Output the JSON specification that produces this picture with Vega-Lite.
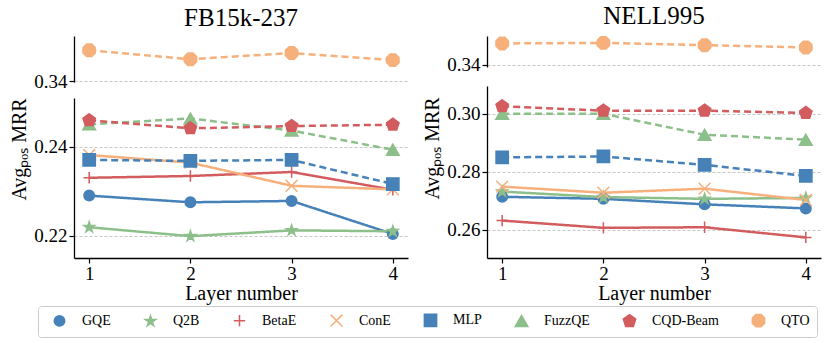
{
  "$schema": "https://vega.github.io/schema/vega-lite/v6.json",
  "padding": {"left": 9, "right": 5, "top": 3, "bottom": 3},
  "data": {"values": [
    {"d": "FB15k-237", "m": "GQE", "layer": 1, "mrr": 0.2290},
    {"d": "FB15k-237", "m": "GQE", "layer": 2, "mrr": 0.2275},
    {"d": "FB15k-237", "m": "GQE", "layer": 3, "mrr": 0.2278},
    {"d": "FB15k-237", "m": "GQE", "layer": 4, "mrr": 0.2204},
    {"d": "FB15k-237", "m": "Q2B", "layer": 1, "mrr": 0.2219},
    {"d": "FB15k-237", "m": "Q2B", "layer": 2, "mrr": 0.2199},
    {"d": "FB15k-237", "m": "Q2B", "layer": 3, "mrr": 0.2212},
    {"d": "FB15k-237", "m": "Q2B", "layer": 4, "mrr": 0.2210},
    {"d": "FB15k-237", "m": "BetaE", "layer": 1, "mrr": 0.2330},
    {"d": "FB15k-237", "m": "BetaE", "layer": 2, "mrr": 0.2334},
    {"d": "FB15k-237", "m": "BetaE", "layer": 3, "mrr": 0.2343},
    {"d": "FB15k-237", "m": "BetaE", "layer": 4, "mrr": 0.2303},
    {"d": "FB15k-237", "m": "ConE", "layer": 1, "mrr": 0.2381},
    {"d": "FB15k-237", "m": "ConE", "layer": 2, "mrr": 0.2364},
    {"d": "FB15k-237", "m": "ConE", "layer": 3, "mrr": 0.2312},
    {"d": "FB15k-237", "m": "ConE", "layer": 4, "mrr": 0.2304},
    {"d": "FB15k-237", "m": "MLP", "layer": 1, "mrr": 0.2370},
    {"d": "FB15k-237", "m": "MLP", "layer": 2, "mrr": 0.2368},
    {"d": "FB15k-237", "m": "MLP", "layer": 3, "mrr": 0.2370},
    {"d": "FB15k-237", "m": "MLP", "layer": 4, "mrr": 0.2316},
    {"d": "FB15k-237", "m": "FuzzQE", "layer": 1, "mrr": 0.2450},
    {"d": "FB15k-237", "m": "FuzzQE", "layer": 2, "mrr": 0.2463},
    {"d": "FB15k-237", "m": "FuzzQE", "layer": 3, "mrr": 0.2436},
    {"d": "FB15k-237", "m": "FuzzQE", "layer": 4, "mrr": 0.2393},
    {"d": "FB15k-237", "m": "CQD-Beam", "layer": 1, "mrr": 0.2459},
    {"d": "FB15k-237", "m": "CQD-Beam", "layer": 2, "mrr": 0.2441},
    {"d": "FB15k-237", "m": "CQD-Beam", "layer": 3, "mrr": 0.2446},
    {"d": "FB15k-237", "m": "CQD-Beam", "layer": 4, "mrr": 0.2449},
    {"d": "FB15k-237", "m": "QTO", "layer": 1, "mrr": 0.3469},
    {"d": "FB15k-237", "m": "QTO", "layer": 2, "mrr": 0.3449},
    {"d": "FB15k-237", "m": "QTO", "layer": 3, "mrr": 0.3463},
    {"d": "FB15k-237", "m": "QTO", "layer": 4, "mrr": 0.3447},
    {"d": "NELL995", "m": "GQE", "layer": 1, "mrr": 0.2713},
    {"d": "NELL995", "m": "GQE", "layer": 2, "mrr": 0.2706},
    {"d": "NELL995", "m": "GQE", "layer": 3, "mrr": 0.2687},
    {"d": "NELL995", "m": "GQE", "layer": 4, "mrr": 0.2673},
    {"d": "NELL995", "m": "Q2B", "layer": 1, "mrr": 0.2731},
    {"d": "NELL995", "m": "Q2B", "layer": 2, "mrr": 0.2712},
    {"d": "NELL995", "m": "Q2B", "layer": 3, "mrr": 0.2706},
    {"d": "NELL995", "m": "Q2B", "layer": 4, "mrr": 0.2709},
    {"d": "NELL995", "m": "BetaE", "layer": 1, "mrr": 0.2631},
    {"d": "NELL995", "m": "BetaE", "layer": 2, "mrr": 0.2606},
    {"d": "NELL995", "m": "BetaE", "layer": 3, "mrr": 0.2608},
    {"d": "NELL995", "m": "BetaE", "layer": 4, "mrr": 0.2573},
    {"d": "NELL995", "m": "ConE", "layer": 1, "mrr": 0.2748},
    {"d": "NELL995", "m": "ConE", "layer": 2, "mrr": 0.2727},
    {"d": "NELL995", "m": "ConE", "layer": 3, "mrr": 0.2741},
    {"d": "NELL995", "m": "ConE", "layer": 4, "mrr": 0.2702},
    {"d": "NELL995", "m": "MLP", "layer": 1, "mrr": 0.2849},
    {"d": "NELL995", "m": "MLP", "layer": 2, "mrr": 0.2852},
    {"d": "NELL995", "m": "MLP", "layer": 3, "mrr": 0.2823},
    {"d": "NELL995", "m": "MLP", "layer": 4, "mrr": 0.2785},
    {"d": "NELL995", "m": "FuzzQE", "layer": 1, "mrr": 0.2999},
    {"d": "NELL995", "m": "FuzzQE", "layer": 2, "mrr": 0.2999},
    {"d": "NELL995", "m": "FuzzQE", "layer": 3, "mrr": 0.2927},
    {"d": "NELL995", "m": "FuzzQE", "layer": 4, "mrr": 0.2910},
    {"d": "NELL995", "m": "CQD-Beam", "layer": 1, "mrr": 0.3025},
    {"d": "NELL995", "m": "CQD-Beam", "layer": 2, "mrr": 0.3010},
    {"d": "NELL995", "m": "CQD-Beam", "layer": 3, "mrr": 0.3010},
    {"d": "NELL995", "m": "CQD-Beam", "layer": 4, "mrr": 0.3002},
    {"d": "NELL995", "m": "QTO", "layer": 1, "mrr": 0.3475},
    {"d": "NELL995", "m": "QTO", "layer": 2, "mrr": 0.3477},
    {"d": "NELL995", "m": "QTO", "layer": 3, "mrr": 0.3469},
    {"d": "NELL995", "m": "QTO", "layer": 4, "mrr": 0.3461}
  ]},
  "config": {
    "font": "Liberation Serif",
    "view": {"stroke": null},
    "axis": {
      "labelFont": "Liberation Serif", "titleFont": "Liberation Serif",
      "labelFontSize": 19, "titleFontSize": 20, "titleFontWeight": "normal",
      "labelColor": "black", "titleColor": "black",
      "domainColor": "black", "domainWidth": 1.3,
      "tickColor": "black", "tickWidth": 1.2, "tickSize": 5,
      "gridColor": "#b8b8b8", "gridDash": [3, 2], "gridWidth": 0.8
    },
    "legend": {
      "orient": "none", "legendX": -36, "legendY": 270, "direction": "horizontal", "columns": 8,
      "columnPadding": 25, "labelOffset": 15, "symbolOffset": 7, "labelFont": "Liberation Serif", "labelFontSize": 14,
      "labelFontWeight": "normal",
      "labelColor": "black", "strokeColor": "#cccccc", "padding": 7, "cornerRadius": 3,
      "symbolStrokeWidth": 1.5, "symbolOpacity": 1
    },
    "title": {"font": "Liberation Serif", "fontSize": 25, "fontWeight": "normal", "color": "black"}
  },
  "spacing": 14,
  "hconcat": [
    {
      "bounds": "flush",
      "spacing": 16,
      "vconcat": [
        {
          "width": 334, "height": 46,
          "title": {"text": "FB15k-237", "anchor": "middle", "frame": "group", "offset": 5},
          "transform": [{"filter": "datum.d === 'FB15k-237' && datum.m === 'QTO'"}],
          "encoding": {
            "x": {"field": "layer", "type": "quantitative", "scale": {"domain": [0.85, 4.15], "nice": false, "zero": false}, "axis": null},
            "y": {"field": "mrr", "type": "quantitative", "scale": {"domain": [0.3398, 0.3501], "nice": false, "zero": false},
                  "axis": {"values": [0.34], "format": ".2f", "title": null, "grid": true, "labelPadding": 2}}
          },
          "layer": [
            {"mark": {"type": "line", "strokeWidth": 2.5},
             "encoding": {
               "stroke": {"field": "m", "type": "nominal", "title": null, "scale": {"domain": ["GQE","Q2B","BetaE","ConE","MLP","FuzzQE","CQD-Beam","QTO"], "range": ["#4682b8","#8dbf8b","#d25c5e","#f6b07c","#4682b8","#8dbf8b","#d25c5e","#f6b07c"]}},
               "strokeDash": {"field": "m", "type": "nominal", "legend": null, "scale": {"domain": ["QTO","CQD-Beam","FuzzQE","MLP","ConE","BetaE","Q2B","GQE"], "range": [[7,4],[7,4],[7,4],[7,4],[1,0],[1,0],[1,0],[1,0]]}}
             }},
            {"mark": {"type": "point", "filled": true, "opacity": 1, "strokeWidth": 1.5},
             "encoding": {
               "fill": {"field": "m", "type": "nominal", "title": null, "scale": {"domain": ["GQE","Q2B","BetaE","ConE","MLP","FuzzQE","CQD-Beam","QTO"], "range": ["#4682b8","#8dbf8b","#d25c5e","#f6b07c","#4682b8","#8dbf8b","#d25c5e","#f6b07c"]}},
               "stroke": {"field": "m", "type": "nominal", "title": null},
               "shape": {"field": "m", "type": "nominal", "title": null, "scale": {"domain": ["GQE","Q2B","BetaE","ConE","MLP","FuzzQE","CQD-Beam","QTO"], "range": ["circle", "M0,-1L0.2245,-0.309L0.951,-0.309L0.363,0.118L0.588,0.809L0,0.382L-0.588,0.809L-0.363,0.118L-0.951,-0.309L-0.2245,-0.309Z", "M-1,0L1,0M0,-1L0,1", "M-1,-1L1,1M-1,1L1,-1", "square", "triangle-up", "M0,-1L0.951,-0.309L0.588,0.809L-0.588,0.809L-0.951,-0.309Z", "M0.924,0.383L0.383,0.924L-0.383,0.924L-0.924,0.383L-0.924,-0.383L-0.383,-0.924L0.383,-0.924L0.924,-0.383Z"]}},
               "size": {"field": "m", "type": "nominal", "title": null, "scale": {"domain": ["GQE","Q2B","BetaE","ConE","MLP","FuzzQE","CQD-Beam","QTO"], "range": [110, 180, 180, 170, 110, 130, 150, 140]}}
             }}
          ]
        },
        {
          "width": 334, "height": 160,
          "transform": [{"filter": "datum.d === 'FB15k-237' && datum.m !== 'QTO'"}],
          "encoding": {
            "x": {"field": "layer", "type": "quantitative", "scale": {"domain": [0.85, 4.15], "nice": false, "zero": false},
                  "axis": {"values": [1, 2, 3, 4], "format": "d", "title": "Layer number", "grid": false, "labelPadding": 1, "titlePadding": 0}},
            "y": {"field": "mrr", "type": "quantitative", "scale": {"domain": [0.2150, 0.2509], "nice": false, "zero": false},
                  "axis": {"values": [0.22, 0.24], "format": ".2f", "title": "Avgₚₒₛ MRR", "titleY": 51, "titlePadding": 4, "grid": true, "labelPadding": 2}}
          },
          "layer": [
            {"mark": {"type": "line", "strokeWidth": 2.5},
             "encoding": {
               "stroke": {"field": "m", "type": "nominal", "title": null},
               "strokeDash": {"field": "m", "type": "nominal", "legend": null}
             }},
            {"mark": {"type": "point", "filled": true, "opacity": 1, "strokeWidth": 1.5},
             "encoding": {
               "fill": {"field": "m", "type": "nominal", "title": null},
               "stroke": {"field": "m", "type": "nominal", "title": null},
               "shape": {"field": "m", "type": "nominal", "title": null},
               "size": {"field": "m", "type": "nominal", "title": null}
             }}
          ]
        }
      ]
    },
    {
      "bounds": "flush",
      "spacing": 19,
      "vconcat": [
        {
          "width": 334, "height": 31,
          "title": {"text": "NELL995", "anchor": "middle", "frame": "group", "offset": 5},
          "transform": [{"filter": "datum.d === 'NELL995' && datum.m === 'QTO'"}],
          "encoding": {
            "x": {"field": "layer", "type": "quantitative", "scale": {"domain": [0.85, 4.15], "nice": false, "zero": false}, "axis": null},
            "y": {"field": "mrr", "type": "quantitative", "scale": {"domain": [0.3393, 0.3501], "nice": false, "zero": false},
                  "axis": {"values": [0.34], "format": ".2f", "title": null, "grid": true, "labelPadding": 2}}
          },
          "layer": [
            {"mark": {"type": "line", "strokeWidth": 2.5},
             "encoding": {
               "stroke": {"field": "m", "type": "nominal", "title": null},
               "strokeDash": {"field": "m", "type": "nominal", "legend": null}
             }},
            {"mark": {"type": "point", "filled": true, "opacity": 1, "strokeWidth": 1.5},
             "encoding": {
               "fill": {"field": "m", "type": "nominal", "title": null},
               "stroke": {"field": "m", "type": "nominal", "title": null},
               "shape": {"field": "m", "type": "nominal", "title": null},
               "size": {"field": "m", "type": "nominal", "title": null}
             }}
          ]
        },
        {
          "width": 334, "height": 172,
          "transform": [{"filter": "datum.d === 'NELL995' && datum.m !== 'QTO'"}],
          "encoding": {
            "x": {"field": "layer", "type": "quantitative", "scale": {"domain": [0.85, 4.15], "nice": false, "zero": false},
                  "axis": {"values": [1, 2, 3, 4], "format": "d", "title": "Layer number", "grid": false, "labelPadding": 1, "titlePadding": 0}},
            "y": {"field": "mrr", "type": "quantitative", "scale": {"domain": [0.2502, 0.3095], "nice": false, "zero": false},
                  "axis": {"values": [0.26, 0.28, 0.30], "format": ".2f", "title": "Avgₚₒₛ MRR", "titleY": 62, "titlePadding": 4, "grid": true, "labelPadding": 2}}
          },
          "layer": [
            {"mark": {"type": "line", "strokeWidth": 2.5},
             "encoding": {
               "stroke": {"field": "m", "type": "nominal", "title": null},
               "strokeDash": {"field": "m", "type": "nominal", "legend": null}
             }},
            {"mark": {"type": "point", "filled": true, "opacity": 1, "strokeWidth": 1.5},
             "encoding": {
               "fill": {"field": "m", "type": "nominal", "title": null},
               "stroke": {"field": "m", "type": "nominal", "title": null},
               "shape": {"field": "m", "type": "nominal", "title": null},
               "size": {"field": "m", "type": "nominal", "title": null}
             }}
          ]
        }
      ]
    }
  ]
}
